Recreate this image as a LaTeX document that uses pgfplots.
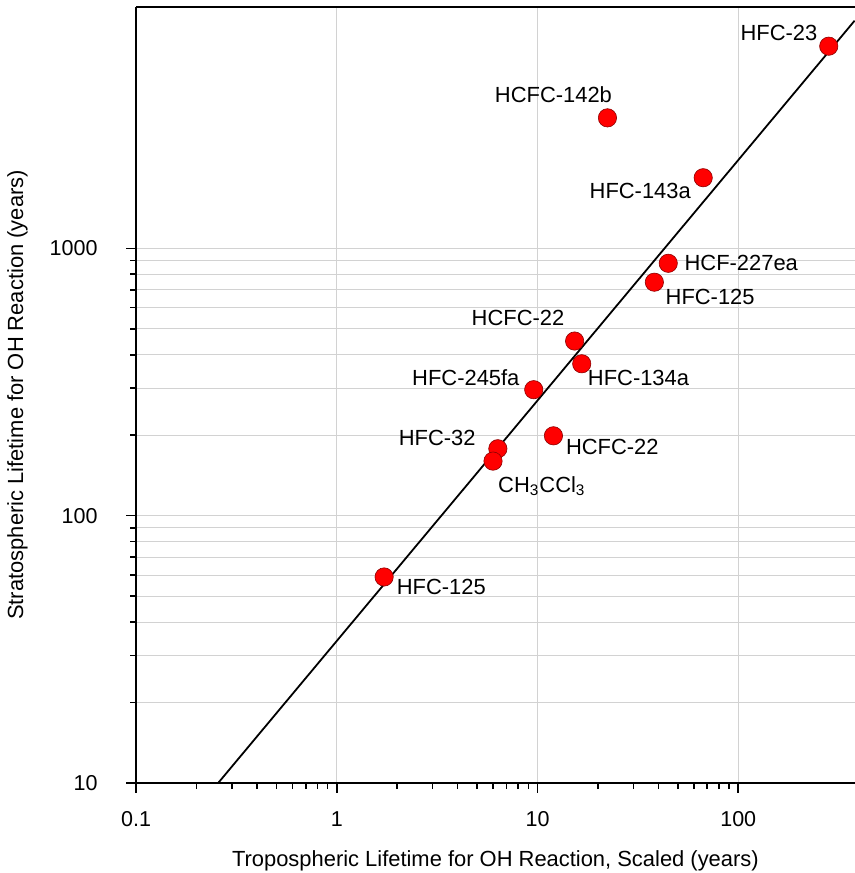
\documentclass[border={0pt 0pt 0pt 3pt}]{standalone}
\usepackage{fontspec}
\setmainfont{Liberation Sans}
\usepackage{pgfplots}
\pgfplotsset{compat=1.18}

\definecolor{ptred}{RGB}{255,0,0}
\definecolor{ptedge}{RGB}{140,0,0}

\begin{document}
\fontsize{11}{13}\selectfont
\begin{tikzpicture}[trim axis right]
\begin{axis}[
  scale only axis, width=360.5pt, height=389.5pt,
  xmode=log, ymode=log,
  xmin=0.1, xmax=380, ymin=10, ymax=8000,
  axis lines=left, axis line style={-, line width=0.9pt},
  tick align=outside,
  major tick length=5pt, minor tick length=3pt,
  every tick/.style={black, line width=0.8pt},
  xtick={0.1,1,10,100}, xticklabels={0.1,1,10,100},
  ytick={10,100,1000}, yticklabels={10,100,1000},
  xmajorgrids, ymajorgrids, yminorgrids,
  major grid style={gray!35, line width=0.5pt},
  minor grid style={gray!35, line width=0.5pt},
  /pgf/number format/assume math mode=true,
  tick label style={font=\fontsize{10.8}{12}\selectfont},
  yticklabel style={xshift=-10.5pt},
  xticklabel style={yshift=-5.5pt},
  xlabel={Tropospheric Lifetime for OH Reaction, Scaled (years)},
  ylabel={Stratospheric Lifetime for OH Reaction (years)},
  label style={font=\fontsize{11}{13}\selectfont},
  xlabel style={yshift=-7pt, inner sep=1pt},
  ylabel style={yshift=3.5pt},
  clip=false,
]
\addplot[black, line width=0.9pt, no marks] coordinates {(0.256,10) (380,7100)};
\addplot[only marks, mark=*, mark size=4.6pt,
  mark options={fill=ptred, draw=ptedge, line width=0.3pt}] coordinates {
  (282.5,5702) (22.3,3076) (66.9,1837) (44.8,879) (38.2,747)
  (15.3,450) (16.6,370) (9.57,296) (12.0,199) (6.34,178)
  (6.0,160) (1.72,59)
};
\draw[line width=0.9pt] (rel axis cs:0,1) -- (rel axis cs:1,1);
\begin{scope}[every node/.style={inner sep=0pt}]
\node[anchor=east] at (axis cs:249,6375) {HFC-23};
\node at (axis cs:12.0,3747) {HCFC-142b};
\node[anchor=east] at (axis cs:58.3,1644) {HFC-143a};
\node[anchor=west] at (axis cs:53.8,879) {HCF-227ea};
\node[anchor=west] at (axis cs:43.3,657) {HFC-125};
\node[anchor=east] at (axis cs:13.65,548) {HCFC-22};
\node[anchor=west] at (axis cs:17.75,328) {HFC-134a};
\node[anchor=east] at (axis cs:8.16,328) {HFC-245fa};
\node[anchor=west] at (axis cs:13.8,181.5) {HCFC-22};
\node[anchor=east] at (axis cs:4.93,196) {HFC-32};
\node[anchor=west] at (axis cs:6.34,129) {CH\textsubscript{3}CCl\textsubscript{3}};
\node[anchor=west] at (axis cs:1.98,54.2) {HFC-125};
\end{scope}
\end{axis}
\end{tikzpicture}
\end{document}
